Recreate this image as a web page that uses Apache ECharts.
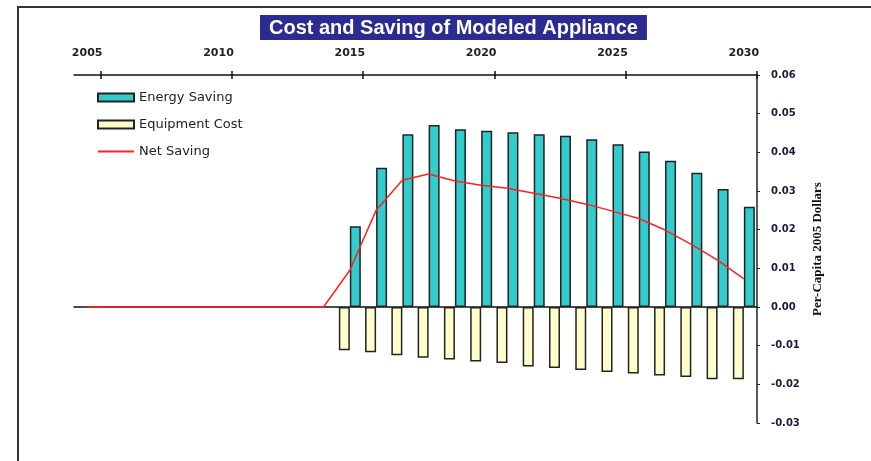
<!DOCTYPE html>
<html>
<head>
<meta charset="utf-8">
<script src="https://cdn.jsdelivr.net/npm/echarts@6/dist/echarts.min.js"></script>
<style>
html,body{margin:0;padding:0;background:#fff}
#chart{width:871px;height:461px}
</style>
</head>
<body>
<div id="chart"></div>
<script>
// categories (years) and the values
var years = ['2005','2006','2007','2008','2009','2010','2011','2012','2013','2014',
             '2015','2016','2017','2018','2019','2020','2021','2022','2023','2024',
             '2025','2026','2027','2028','2029','2030'];

var energySaving = [null,null,null,null,null,null,null,null,null,null,
    0.0209,0.0360,0.0447,0.0471,0.0460,0.0456,0.0452,0.0447,0.0443,0.0434,
    0.0421,0.0402,0.0378,0.0347,0.0305,0.0259];

var equipmentCost = [null,null,null,null,null,null,null,null,null,null,
    -0.0112,-0.0117,-0.0125,-0.0131,-0.0136,-0.0141,-0.0145,-0.0154,-0.0158,-0.0163,
    -0.0168,-0.0172,-0.0177,-0.0181,-0.0187,-0.0187];

var netSaving = [0,0,0,0,0,0,0,0,0,0,
    0.0095,0.0250,0.0328,0.0344,0.0326,0.0315,0.0307,0.0294,0.0281,0.0266,
    0.0248,0.0229,0.0199,0.0162,0.0121,0.0073];

var chart = echarts.init(document.getElementById('chart'));

// ticks sit on the boundary after 2005, 2010, ...
var tickEvery5 = function (i) { return i % 5 === 1; };

var option = {
    animation: false,
    backgroundColor: '#fff',
    title: {
        text: 'Cost and Saving of Modeled Appliance',
        left: 260,
        top: 15,
        backgroundColor: '#2b2b92',
        padding: [3, 9, 2, 9],
        textStyle: {
            color: '#fff',
            fontSize: 20,
            fontWeight: 'bold',
            fontFamily: 'Liberation Sans'
        }
    },
    legend: {
        orient: 'vertical',
        left: 92,
        top: 86,
        itemWidth: 36,
        itemHeight: 8,
        itemGap: 14,
        data: [
            {name: 'Energy Saving', icon: 'rect'},
            {name: 'Equipment Cost', icon: 'rect'},
            {name: 'Net Saving'}
        ],
        textStyle: {color: '#222', fontSize: 13, fontFamily: 'DejaVu Sans'}
    },
    grid: {left: 74, right: 114, top: 75, bottom: 38, containLabel: false},
    graphic: [{
        type: 'polyline',
        shape: {points: [[18, 461], [18, 7], [871, 7]]},
        style: {stroke: '#333', lineWidth: 2, fill: null},
        silent: true
    }],
    xAxis: [{
        type: 'category',
        data: years,
        position: 'top',
        boundaryGap: true,
        axisLine: {show: true, onZero: false, lineStyle: {color: '#111', width: 1.5}},
        axisTick: {show: true, interval: tickEvery5, length: 4, lineStyle: {color: '#111', width: 1.5}},
        axisLabel: {
            interval: 4,
            margin: 16,
            color: '#222',
            fontSize: 11,
            fontWeight: 'bold',
            fontFamily: 'DejaVu Sans'
        },
        splitLine: {show: false}
    }, {
        // inner half of the crossing ticks
        type: 'category',
        data: years,
        position: 'top',
        axisLine: {show: false, onZero: false},
        axisTick: {show: true, interval: tickEvery5, inside: true, length: 4, lineStyle: {color: '#111', width: 1.5}},
        axisLabel: {show: false},
        splitLine: {show: false}
    }, {
        // zero line
        type: 'category',
        data: years,
        position: 'bottom',
        axisLine: {show: true, onZero: true, lineStyle: {color: '#111', width: 1.5}},
        axisTick: {show: false},
        axisLabel: {show: false},
        splitLine: {show: false}
    }],
    yAxis: {
        type: 'value',
        position: 'right',
        min: -0.03,
        max: 0.06,
        interval: 0.01,
        name: 'Per-Capita 2005 Dollars',
        nameLocation: 'middle',
        nameRotate: 90,
        nameGap: 48,
        nameTextStyle: {
            color: '#111',
            fontSize: 13,
            fontWeight: 'bold',
            fontFamily: 'Liberation Serif'
        },
        axisLine: {show: true, lineStyle: {color: '#222', width: 1.5}},
        axisTick: {show: true, length: 3, lineStyle: {color: '#222'}},
        axisLabel: {
            margin: 14,
            color: '#1a1a40',
            fontSize: 10,
            fontWeight: 'bold',
            fontFamily: 'DejaVu Sans',
            formatter: function (v) { return v.toFixed(2); }
        },
        splitLine: {show: false}
    },
    series: [{
        name: 'Equipment Cost',
        type: 'bar',
        xAxisIndex: 0,
        data: equipmentCost,
        barWidth: 11,
        barGap: '0%',
        itemStyle: {color: '#ffffcc', borderColor: '#222', borderWidth: 1.5}
    }, {
        name: 'Energy Saving',
        type: 'bar',
        xAxisIndex: 0,
        data: energySaving,
        barWidth: 11,
        barGap: '0%',
        itemStyle: {color: '#33cccc', borderColor: '#222', borderWidth: 1.5}
    }, {
        name: 'Net Saving',
        type: 'line',
        xAxisIndex: 0,
        data: netSaving,
        symbol: 'line',
        showSymbol: false,
        z: 5,
        lineStyle: {color: '#ff2020', width: 1.5},
        itemStyle: {color: '#ff2020'}
    }]
};

chart.setOption(option);
</script>
</body>
</html>
